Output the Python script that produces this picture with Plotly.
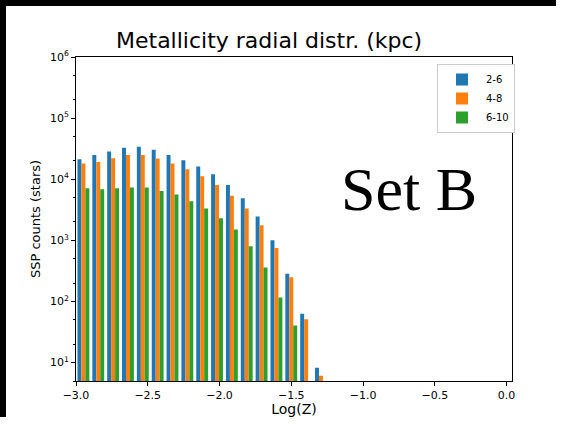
import numpy as np
import plotly.graph_objects as go

# Histogram bin edges: 29 bins spanning Log(Z) = -3 .. 0
bin_edges = np.linspace(-3.0, 0.0, 30)
bin_centers = 0.5 * (bin_edges[:-1] + bin_edges[1:])

labels = ["2-6", "4-8", "6-10"]
colors = ["#1f77b4", "#ff7f0e", "#2ca02c"]

counts_2_6 = [21300, 25000, 28400, 32600, 33900, 30500, 25000, 20500, 16100, 12100,
              8070, 4880, 2450, 1000, 284, 63, 8.2] + [None] * 12
counts_4_8 = [18100, 19200, 22100, 25000, 25000, 21900, 18100, 14600, 11200, 8070,
              5370, 3310, 1760, 748, 250, 51, 6.1] + [None] * 12
counts_6_10 = [7120, 6850, 7120, 7310, 7310, 6430, 5610, 4360, 3310, 2300,
               1500, 798, 361, 116, 40.4, None, None] + [None] * 12

x_ticks = [-3.0, -2.5, -2.0, -1.5, -1.0, -0.5, 0.0]
y_tickvals = [10, 100, 1000, 10000, 100000, 1000000]
y_ticktext = ["10<sup>1</sup>", "10<sup>2</sup>", "10<sup>3</sup>",
              "10<sup>4</sup>", "10<sup>5</sup>", "10<sup>6</sup>"]

W, H = 556, 417
ML, MR, MT, MB = 76, 44, 57, 36
PW, PH = W - ML - MR, H - MT - MB

def px_x(px):
    return (px - ML) / PW

def px_y(py):
    return 1 - (py - MT) / PH

fig = go.Figure()
for lab, col, vals in zip(labels, colors, [counts_2_6, counts_4_8, counts_6_10]):
    fig.add_trace(go.Bar(x=bin_centers, y=vals, name=lab, marker=dict(color=col, line=dict(width=0))))

font_family = "DejaVu Sans"
fig.update_layout(
    width=W, height=H,
    margin=dict(l=ML, r=MR, t=MT, b=MB, pad=0, autoexpand=False),
    paper_bgcolor="white",
    plot_bgcolor="white",
    barmode="group", bargap=0.2, bargroupgap=0.0,
    font=dict(family=font_family, color="black", size=11),
    title=dict(text="Metallicity radial distr. (kpc)", x=px_x(287), xanchor="center",
               y=1 - 40 / H, yanchor="middle",
               font=dict(size=22, family=font_family, color="black")),
    showlegend=True,
    legend=dict(x=px_x(515), xanchor="right", y=px_y(64), yanchor="top",
                bgcolor="white", bordercolor="#cccccc", borderwidth=1,
                font=dict(size=10, family=font_family), itemsizing="constant",
                itemwidth=38, tracegroupgap=0),
    shapes=[
        dict(type="rect", xref="paper", yref="paper", layer="above",
             x0=px_x(-5), x1=px_x(W + 5), y0=px_y(6), y1=px_y(-5),
             fillcolor="black", line=dict(width=0)),
        dict(type="rect", xref="paper", yref="paper", layer="above",
             x0=px_x(-5), x1=px_x(6), y0=px_y(H + 5), y1=px_y(-5),
             fillcolor="black", line=dict(width=0)),
    ],
    annotations=[dict(text="Set B", xref="paper", yref="paper", x=px_x(409), y=px_y(189),
                      xanchor="center", yanchor="middle", showarrow=False,
                      font=dict(family="Liberation Serif", size=62, color="black"))],
)

fig.update_xaxes(range=[-3.0, 0.038], tickvals=x_ticks, tickformat=".1f", automargin=False,
                 ticks="outside", ticklen=4, tickcolor="black", showgrid=False, zeroline=False,
                 showline=True, linecolor="black", linewidth=1, mirror=True,
                 tickfont=dict(size=11, family=font_family),
                 title=dict(text="Log(Z)", font=dict(size=14, family=font_family), standoff=3))
fig.update_yaxes(type="log", range=[np.log10(5), 6], tickvals=y_tickvals, ticktext=y_ticktext,
                 automargin=False,
                 ticks="outside", ticklen=4, tickcolor="black", showgrid=False, zeroline=False,
                 showline=True, linecolor="black", linewidth=1, mirror=True,
                 minor=dict(ticks="outside", ticklen=2, tickcolor="black", showgrid=False),
                 tickfont=dict(size=11, family=font_family),
                 title=dict(text="SSP counts (stars)", font=dict(size=13, family=font_family), standoff=6))

fig.write_html("out.html")
